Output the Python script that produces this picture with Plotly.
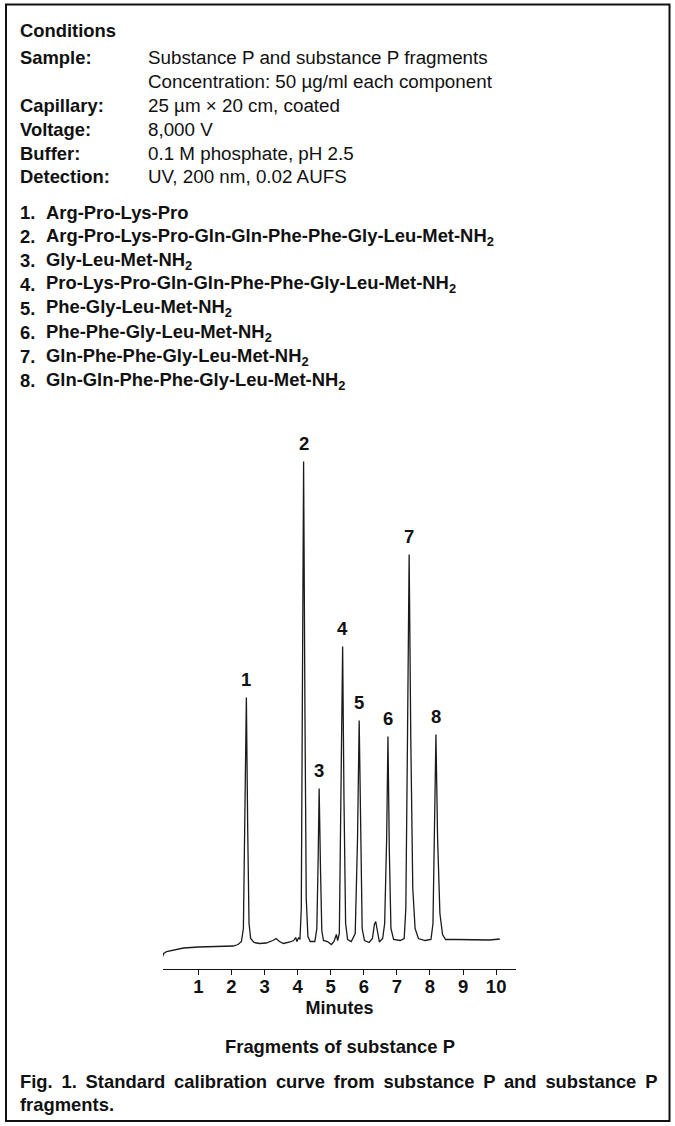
import plotly.graph_objects as go

# ---------------- data ----------------
condition_labels = ["Sample:", "", "Capillary:", "Voltage:", "Buffer:", "Detection:"]
condition_values = [
    "Substance P and substance P fragments",
    "Concentration: 50 µg/ml each component",
    "25 µm × 20 cm, coated",
    "8,000 V",
    "0.1 M phosphate, pH 2.5",
    "UV, 200 nm, 0.02 AUFS",
]
compound_numbers = ["1.", "2.", "3.", "4.", "5.", "6.", "7.", "8."]
compound_names = [
    "Arg-Pro-Lys-Pro",
    "Arg-Pro-Lys-Pro-Gln-Gln-Phe-Phe-Gly-Leu-Met-NH<sub>2</sub>",
    "Gly-Leu-Met-NH<sub>2</sub>",
    "Pro-Lys-Pro-Gln-Gln-Phe-Phe-Gly-Leu-Met-NH<sub>2</sub>",
    "Phe-Gly-Leu-Met-NH<sub>2</sub>",
    "Phe-Phe-Gly-Leu-Met-NH<sub>2</sub>",
    "Gln-Phe-Phe-Gly-Leu-Met-NH<sub>2</sub>",
    "Gln-Gln-Phe-Phe-Gly-Leu-Met-NH<sub>2</sub>",
]

peak_labels = ["1", "2", "3", "4", "5", "6", "7", "8"]
peak_times = [2.45, 4.18, 4.65, 5.36, 5.86, 6.73, 7.37, 8.18]      # minutes
peak_heights = [271, 507, 180, 322, 248, 232, 414, 234]            # detector signal (relative units)

# electropherogram trace (minutes, relative signal)
trace_time = [
    -0.08, -0.05, 0.04, 0.30, 0.55, 1.00, 1.55, 2.05, 2.20, 2.30,
    2.36, 2.40, 2.45, 2.49, 2.53, 2.58, 2.68, 2.85, 3.05, 3.25,
    3.35, 3.45, 3.57, 3.77, 3.88, 3.94, 3.98, 4.03, 4.07, 4.11,
    4.15, 4.18, 4.22, 4.26, 4.31, 4.38, 4.52, 4.58, 4.62, 4.65,
    4.69, 4.73, 4.78, 4.90, 5.02, 5.10, 5.17, 5.21, 5.26, 5.31,
    5.36, 5.40, 5.45, 5.51, 5.62, 5.74, 5.81, 5.86, 5.90, 5.95,
    6.02, 6.16, 6.26, 6.32, 6.36, 6.41, 6.47, 6.57, 6.63, 6.69,
    6.73, 6.77, 6.82, 6.90, 7.10, 7.22, 7.27, 7.32, 7.37, 7.42,
    7.48, 7.55, 7.65, 7.85, 8.03, 8.09, 8.14, 8.18, 8.23, 8.30,
    8.38, 8.47, 8.80, 9.30, 9.80, 10.11,
]
trace_signal = [
    12, 15, 17, 19, 20.5, 21.5, 22.3, 22.5, 24, 27,
    40, 140, 271, 140, 45, 30, 26, 25, 25.5, 28,
    30, 27, 25, 26.5, 28, 31, 27, 31, 29, 60,
    260, 507, 260, 70, 32, 27, 27, 40, 110, 180,
    100, 38, 28, 27, 24, 27, 34, 28, 35, 170,
    322, 170, 45, 29, 27, 35, 130, 248, 130, 40,
    28, 26, 30, 44, 47, 36, 26.5, 30, 45, 130,
    232, 120, 40, 29, 28, 30, 60, 230, 414, 230,
    80, 40, 30, 28, 29, 45, 130, 234, 130, 55,
    34, 29, 29, 28.5, 28.5, 29.5,
]

tick_values = [1, 2, 3, 4, 5, 6, 7, 8, 9, 10]
tick_labels = ["1", "2", "3", "4", "5", "6", "7", "8", "9", "10"]

x_title = "Minutes"
chart_title = "Fragments of substance P"
caption_line1 = "Fig. 1. Standard calibration curve from substance P and substance P"
caption_line2 = "fragments."

# ---------------- layout helpers ----------------
W, H = 675, 1126
FONT = "Liberation Sans, Arial, Helvetica, sans-serif"
INK = "#111111"
REG = 18.8
BOLD = 18.4


def px(x):
    return x / W


def py(y):
    return 1 - y / H


annotations = []


def text(x, y, s, size=BOLD, bold=False, xanchor="left"):
    annotations.append(dict(
        x=px(x), y=py(y), xref="paper", yref="paper",
        text=("<b>%s</b>" % s) if bold else s,
        showarrow=False, xanchor=xanchor, yanchor="middle",
        font=dict(family=FONT, size=size, color=INK),
    ))


# header
text(18, 30, "Conditions", bold=True)
for i, (lab, val) in enumerate(zip(condition_labels, condition_values)):
    yy = 58 + i * 23.8
    if lab:
        text(18, yy, lab, bold=True)
    text(145.5, yy, val, size=REG)

# compound list
for i, (num, name) in enumerate(zip(compound_numbers, compound_names)):
    yy = 212.5 + i * 24
    text(18, yy, num, bold=True)
    text(43.5, yy, name, bold=True)

# bottom texts
text(340, 1046, chart_title, bold=True, xanchor="center")
text(18, 1081, caption_line1.replace(" ", " \u2009"), bold=True)
text(18, 1104, caption_line2, bold=True)

# peak labels (data coordinates)
for lab, t, h in zip(peak_labels, peak_times, peak_heights):
    annotations.append(dict(
        x=t, y=h, xref="x", yref="y", text="<b>%s</b>" % lab,
        showarrow=False, xanchor="center", yanchor="middle", yshift=18,
        font=dict(family=FONT, size=18.5, color=INK),
    ))

fig = go.Figure()
fig.add_trace(go.Scatter(
    x=trace_time, y=trace_signal, mode="lines",
    line=dict(color="#1a1a1a", width=1.3),
    hoverinfo="skip", showlegend=False,
))

axis_left, axis_right = 163, 516
axis_bottom, axis_top = 968.5, 439

fig.update_layout(
    width=W, height=H, autosize=False,
    margin=dict(l=0, r=0, t=0, b=0),
    paper_bgcolor="white", plot_bgcolor="white",
    showlegend=False,
    annotations=annotations,
    xaxis=dict(
        domain=[px(axis_left), px(axis_right)],
        range=[-0.07, 10.6],
        showgrid=False, zeroline=False,
        showline=True, linecolor=INK, linewidth=1.2,
        ticks="outside", ticklen=5, tickwidth=1.2, tickcolor=INK,
        tickvals=tick_values, ticktext=["<b>%s</b>" % t for t in tick_labels],
        tickfont=dict(family=FONT, size=18.5, color=INK),
        ticklabelstandoff=-4,
        title=dict(text="<b>%s</b>" % x_title, standoff=5,
                   font=dict(family=FONT, size=18, color=INK)),
    ),
    yaxis=dict(
        domain=[py(axis_bottom), py(axis_top)],
        range=[0, axis_bottom - axis_top],
        visible=False,
    ),
    shapes=[dict(
        type="rect", xref="paper", yref="paper",
        x0=px(6), x1=px(669.5), y0=py(1121), y1=py(4.5),
        line=dict(color=INK, width=2), fillcolor="rgba(0,0,0,0)",
    )],
)

fig.write_html("out.html", config={"displayModeBar": False},
               post_script="document.body.style.margin='0';")
